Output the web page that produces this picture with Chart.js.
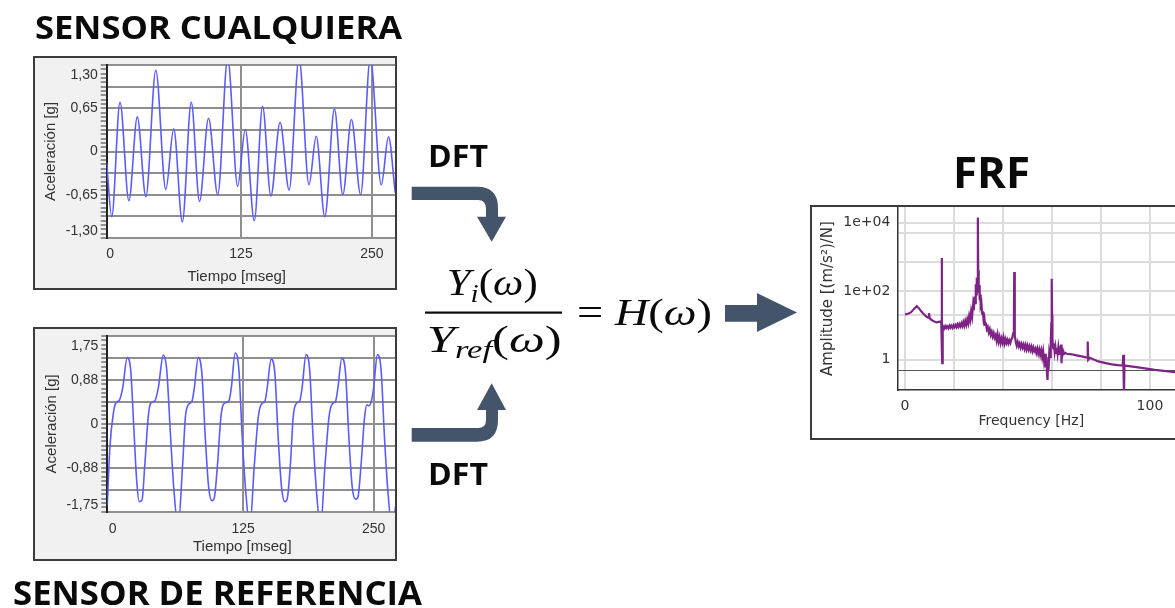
<!DOCTYPE html>
<html>
<head>
<meta charset="utf-8">
<script src="https://cdn.jsdelivr.net/npm/chart.js@4.4.0/dist/chart.umd.min.js"></script>
<style>
  html, body { margin: 0; padding: 0; background: #fff; overflow: hidden; }
  #page { position: relative; width: 1175px; height: 608px; }
  .panel { position: absolute; box-sizing: border-box; border: 2px solid #3c3c3c; background: #f1f1f1; overflow: hidden; }
  .panel canvas { position: absolute; left: 0; top: 0; }
  svg { position: absolute; left: 0; top: 0; }
</style>
</head>
<body>
<div id="page">
  <div class="panel" style="left:33px;top:56px;width:364px;height:234px"><canvas id="topChart" width="360" height="230"></canvas></div>
  <div class="panel" style="left:33px;top:327px;width:364px;height:234px"><canvas id="refChart" width="360" height="230"></canvas></div>
  <div class="panel" style="left:810px;top:205px;width:400px;height:235px;background:#fff"><canvas id="frfChart" width="396" height="231"></canvas></div>

  <svg width="1175" height="608" viewBox="0 0 1175 608">
    <g font-family="'Open Sans', sans-serif" font-weight="700" fill="#0a0a0a">
      <text x="35" y="39" font-size="33" textLength="367" lengthAdjust="spacingAndGlyphs">SENSOR CUALQUIERA</text>
      <text x="13" y="605" font-size="34" textLength="409" lengthAdjust="spacingAndGlyphs">SENSOR DE REFERENCIA</text>
      <text x="428" y="166.5" font-size="30" textLength="60" lengthAdjust="spacingAndGlyphs">DFT</text>
      <text x="428" y="485" font-size="30" textLength="60" lengthAdjust="spacingAndGlyphs">DFT</text>
      <text x="953" y="188" font-size="43" textLength="77" lengthAdjust="spacingAndGlyphs">FRF</text>
    </g>
    <g fill="#44546a">
      <path d="M411.7,186.7 L477,186.7 Q498,186.7 498,208 L498,216.7 L506,216.7 L491.7,241.7 L477,216.7 L486,216.7 L486,209 Q486,200 478,200 L411.7,200 Z"/>
      <path d="M411.7,441.7 L477,441.7 Q498,441.7 498,420 L498,410 L506,410 L491.7,383.3 L477,410 L486,410 L486,420 Q486,428 478,428 L411.7,428 Z"/>
      <path d="M725,305 L757,305 L757,293 L797,312.5 L757,332 L757,321.7 L725,321.7 Z"/>
    </g>
    <g font-family="'Liberation Serif', serif" font-size="38" fill="#0a0a0a">
      <text x="446.7" y="295" textLength="91" lengthAdjust="spacingAndGlyphs"><tspan font-style="italic">Y</tspan><tspan font-style="italic" font-size="26" dy="7">i</tspan><tspan dy="-7">(</tspan><tspan font-style="italic">ω</tspan><tspan>)</tspan></text>
      <rect x="425" y="311.5" width="137" height="2.2"/>
      <text x="426.7" y="351.7" textLength="135" lengthAdjust="spacingAndGlyphs"><tspan font-style="italic">Y</tspan><tspan font-style="italic" font-size="26" dy="6">ref</tspan><tspan dy="-6">(</tspan><tspan font-style="italic">ω</tspan><tspan>)</tspan></text>
      <text x="577" y="325" textLength="135" lengthAdjust="spacingAndGlyphs">= <tspan font-style="italic">H</tspan>(<tspan font-style="italic">ω</tspan>)</text>
    </g>
  </svg>
</div>

<script>
// ===== data =====
// sensor cualquiera: time [ms] and acceleration [g] at the turning points
const topMs = [-3.2, 1.6, 9.5, 18, 26, 34.2, 43.7, 53.2, 60.8, 69,
  77.5, 85.4, 94, 102.8, 112.3, 121.8, 129.1, 137.7, 145.6, 153.5,
  162.3, 170.9, 180.4, 189.9, 196.8, 205, 214.2, 222.2, 230.4, 239.2,
  248.4, 258.9, 265.8, 272.2];
const topG = [-0.17, -0.98, 0.74, -0.74, 0.52, -0.68, 1.22, -0.57, 0.34, -1.06,
  0.74, -0.75, 0.5, -0.65, 1.4, -0.52, 0.33, -1.04, 0.68, -0.67,
  0.44, -0.58, 1.4, -0.5, 0.23, -0.98, 0.64, -0.65, 0.48, -0.65,
  1.4, -0.5, 0.22, -0.62];

// sensor de referencia
const refMs = [-5, -2.5, 0.8, 3.3, 6.5, 9.7, 14.1, 17.4, 20.5, 23.1, 25.6, 28.2, 31,
  34.2, 36.5, 40.6, 43.8, 48.6, 51.8, 55.6, 58.8, 62.8, 67.2,
  69.8, 73, 76.1, 78.3, 82.1, 85.6, 88.8, 92, 95.2, 97.4, 100.6,
  103.8, 106.5, 111.5, 113.7, 117.5, 121, 124.2, 127.4, 131.5, 135.9,
  139.6, 142.8, 145.9, 148.1, 151.9, 155.4, 158.6, 161.8, 165, 167.2, 170.4,
  173, 176.2, 179.3, 181.5, 185.3, 188.8, 192, 195.2, 199.2, 203.6,
  207.3, 210.5, 213.6, 215.8, 219.6, 223.1, 226.3, 229.5, 232.7, 234.9, 238.1,
  241.4, 243.6, 245.5, 247.8, 250, 253.7, 257.2, 260.4, 263.6, 267.6, 271.5];
const refG = [-1.62, -0.46, 0.21, 0.42, 0.47, 0.71, 1.32, 1.07, -0.12, -1.12, -1.55, -1.52, -0.79,
  0.14, 0.41, 0.46, 0.71, 1.37, 1.1, -0.26, -1.32, -2.05, -0.79,
  0.14, 0.39, 0.45, 0.71, 1.32, 1.0, -0.26, -1.25, -1.53, -1.48, -0.79,
  0.14, 0.40, 0.46, 0.71, 1.41, 1.08, -0.26, -1.3, -2.05, -0.79,
  0.14, 0.40, 0.45, 0.71, 1.29, 1.02, -0.26, -1.25, -1.55, -1.5, -0.79,
  0.14, 0.41, 0.46, 0.71, 1.38, 1.07, -0.26, -1.32, -2.05, -0.79,
  0.14, 0.40, 0.45, 0.71, 1.31, 1.02, -0.26, -1.25, -1.5, -1.47, -0.79,
  0.14, 0.38, 0.36, 0.45, 0.71, 1.38, 1.07, -0.26, -1.32, -2.05, -1.6];

// FRF: frequency [Hz] and amplitude [(m/s²)/N]
const frfHz = [0, 1.2, 2.4, 3.6, 4.8, 5.8, 6.8, 7.8, 8.8, 9.5,
  9.8, 10.1, 10.9, 12, 12.9, 14.3, 14.8, 15, 15.1, 15.2,
  15.4, 15.6, 16, 16.4, 16.8, 17.2, 17.7, 18.1, 18.5, 18.9,
  19.4, 19.8, 20.2, 20.6, 21, 21.4, 21.8, 22.2, 22.6, 23,
  23.4, 23.8, 24.2, 24.6, 25, 25.4, 25.8, 26.2, 26.6, 27,
  27.4, 27.8, 28.1, 28.4, 28.7, 28.9, 29.1, 29.3, 29.5, 29.7,
  29.8, 29.9, 30.1, 30.3, 30.5, 30.7, 30.9, 31.2, 31.5, 31.8,
  32.1, 32.4, 32.7, 33, 33.4, 33.8, 34.2, 34.6, 35, 35.4,
  35.8, 36.2, 36.6, 37, 37.4, 37.8, 38.2, 38.6, 39, 39.4,
  39.8, 40.2, 40.6, 41, 41.4, 41.8, 42.2, 42.6, 43, 43.4,
  43.8, 44.2, 44.45, 44.6, 44.75, 44.9, 45.2, 45.6, 46, 46.4,
  46.8, 47.2, 47.6, 48, 48.4, 48.8, 49.2, 49.6, 50, 50.4,
  50.8, 51.2, 51.6, 52, 52.4, 52.8, 53.2, 53.6, 54, 54.4,
  54.8, 55.2, 55.6, 56, 56.4, 56.8, 57.2, 57.5, 57.8, 58,
  58.2, 58.4, 58.6, 58.9, 59.2, 59.5, 59.75, 59.9, 60.05, 60.2,
  60.5, 60.8, 61.1, 61.4, 61.7, 62, 62.3, 62.6, 62.9, 63.2,
  63.5, 63.7, 63.85, 64, 64.3, 64.6, 65, 65.5, 66, 68,
  70, 72.1, 73.5, 74.5, 74.6, 74.8, 75.5, 78.9, 82, 84.4,
  87, 88.9, 89.1, 89.4, 89.6, 90, 95.2, 102, 110.2, 124];
const frfAmp = [21, 22, 24, 30, 37, 31, 25, 21, 18, 17,
  23, 16, 14.5, 13, 12.3, 12.9, 13, 930, 2, 0.8,
  7, 9.3, 8.2, 9.6, 8.4, 9.5, 8.3, 9.8, 8.6, 9.9,
  8.5, 10.1, 8.9, 10.3, 9, 10.8, 9.2, 11, 9.4, 11.5,
  9.6, 12.5, 9.8, 13.5, 10.5, 15, 11.5, 19, 14, 26,
  18, 40, 28, 70, 45, 160, 80, 250, 130, 300,
  14000, 400, 90, 150, 55, 80, 38, 45, 22, 26,
  14, 17, 10.5, 12, 7.8, 9, 6.3, 7.8, 5.4, 6.6,
  4.8, 6, 4.4, 5.2, 3.6, 5.4, 3.4, 4.6, 3.1, 4.2,
  3.2, 4.5, 3, 4, 3.1, 3.8, 3, 3.7, 3.1, 3.9,
  4.4, 6, 12, 360, 14, 5, 3.4, 2.6, 3.3, 2.5,
  3, 2.3, 2.9, 2.3, 2.8, 2.1, 2.7, 2, 2.6, 2,
  2.5, 1.9, 2.4, 1.8, 2.3, 1.8, 2.1, 1.6, 2.1, 1.5,
  2, 1.4, 1.9, 1.2, 1.8, 0.9, 1.5, 0.6, 1.2, 0.35,
  0.26, 0.9, 0.5, 1.6, 1.2, 3, 12, 230, 20, 4,
  2.2, 3, 1.7, 2.4, 1.6, 2.2, 1.5, 2.3, 1.5, 2.5,
  1.4, 2.8, 0.8, 2.2, 1.4, 1.8, 1.5, 1.6, 1.5, 1.45,
  1.35, 1.26, 1.2, 1.15, 3.4, 1.0, 1.15, 0.9, 0.8, 0.74,
  0.7, 0.68, 1.4, 0.09, 0.7, 0.68, 0.6, 0.51, 0.44, 0.38];

// axis ticks
const timeTicks = [0, 125, 250];
const topYTicks = [-1.3, -0.65, 0, 0.65, 1.3];
const topYLabels = ['-1,30', '-0,65', '0', '0,65', '1,30'];
const refYTicks = [-1.75, -0.875, 0, 0.875, 1.75];
const refYLabels = ['-1,75', '-0,88', '0', '0,88', '1,75'];
const frfXTicks = [0, 20, 40, 60, 80, 100, 120];
const frfXLabels = [0, 100];
const frfYGrid = [0.5, 1, 20, 100, 700, 5000, 10000];
const frfYTicks = [1, 100, 10000];
const frfYLabels = ['1', '1e+02', '1e+04'];

// ===== helpers =====
const whiteArea = {
  id: 'whiteArea',
  beforeDraw(chart) {
    const a = chart.chartArea, c = chart.ctx;
    c.save(); c.fillStyle = '#fff'; c.fillRect(a.left, a.top, a.right - a.left, a.bottom - a.top); c.restore();
  }
};

// end labels sit inside the axis range in the original, draw them by hand
const edgeLabels = {
  id: 'edgeLabels',
  afterDraw(chart, args, opts) {
    if (!opts.top) return;
    const y = chart.scales.y, c = chart.ctx;
    c.save();
    c.font = '14px "Liberation Sans", Arial, sans-serif';
    c.fillStyle = '#333';
    c.textAlign = 'right';
    c.textBaseline = 'middle';
    c.fillText(opts.top, y.right - 9, y.getPixelForValue(y.max) + 10);
    c.fillText(opts.bottom, y.right - 9, y.getPixelForValue(y.min) - 7);
    c.restore();
  }
};

// x axis title is not centred on the plot in the original
const xTitle = {
  id: 'xTitle',
  afterDraw(chart, args, opts) {
    if (!opts.text) return;
    const c = chart.ctx;
    c.save();
    c.font = opts.font;
    c.fillStyle = '#333';
    c.textAlign = 'center';
    c.textBaseline = 'middle';
    c.fillText(opts.text, chart.chartArea.left + opts.dx, opts.y);
    c.restore();
  }
};

function minorTicks(majors) {
  const step = majors[1] - majors[0];
  const out = [];
  const n = (majors.length - 1) * 10;
  for (let i = 0; i <= n; i++) {
    out.push({ value: majors[0] + i * step / 10, kind: i % 10 === 0 ? 'major' : (i % 5 === 0 ? 'half' : 'minor') });
  }
  return out;
}

const sans = '"Liberation Sans", Arial, sans-serif';

function timeChart(id, ms, g, yTicks, yLabels, xMin, xMax, yW, xH, lblPad, titleDx, titleY, yTitlePad) {
  const step = yTicks[1] - yTicks[0];
  return new Chart(document.getElementById(id), {
    type: 'line',
    data: {
      datasets: [{
        data: ms.map((t, i) => ({ x: t, y: g[i] })),
        borderColor: '#5b5bff',
        borderWidth: 1.6,
        pointRadius: 0,
        cubicInterpolationMode: 'monotone'
      }]
    },
    options: {
      responsive: false,
      animation: false,
      layout: { padding: { top: 7, left: 0, right: 0, bottom: 0 } },
      plugins: {
        legend: { display: false },
        tooltip: { enabled: false },
        edgeLabels: { top: yLabels[yLabels.length - 1], bottom: yLabels[0] },
        xTitle: { text: 'Tiempo [mseg]', dx: titleDx, y: titleY, font: '15px ' + sans }
      },
      scales: {
        x: {
          type: 'linear', min: xMin, max: xMax,
          afterBuildTicks: s => { s.ticks = timeTicks.map(v => ({ value: v })); },
          afterFit: s => { s.height = xH; s.paddingLeft = 0; s.paddingRight = 0; },
          grid: { color: c => (c.tick && c.tick.value === 0) ? 'rgba(0,0,0,0)' : '#8f8f8f', lineWidth: 2, drawTicks: false },
          border: { color: '#8f8f8f', width: 2 },
          ticks: { padding: lblPad, color: '#333', font: { family: sans, size: 14 }, maxRotation: 0, callback: v => String(v) }
        },
        y: {
          min: yTicks[0], max: yTicks[yTicks.length - 1],
          afterBuildTicks: s => { s.ticks = minorTicks(yTicks); },
          afterFit: s => { s.width = yW; s.paddingTop = 0; s.paddingBottom = 0; },
          grid: {
            color: c => (c.tick && c.tick.kind !== 'minor') ? '#8f8f8f' : 'rgba(0,0,0,0)',
            lineWidth: 2,
            tickColor: '#333', tickLength: 6, tickWidth: 1
          },
          border: { color: '#222', width: 2 },
          ticks: {
            autoSkip: false, padding: 3, color: '#333', font: { family: sans, size: 14 },
            callback: function (v, i, ticks) {
              if (ticks[i].kind !== 'major') return '';
              const k = Math.round((v - yTicks[0]) / step);
              if (k === 0 || k === yTicks.length - 1) return '';
              return yLabels[k];
            }
          },
          title: { display: true, text: 'Aceleración [g]', color: '#333', font: { family: sans, size: 15 }, padding: { top: yTitlePad, bottom: 0 } }
        }
      }
    },
    plugins: [whiteArea, edgeLabels, xTitle]
  });
}

timeChart('topChart', topMs, topG, topYTicks, topYLabels, -3.2, 272, 71.7, 50, 8, 130, 218.7, 6.7);
timeChart('refChart', refMs, refG, refYTicks, refYLabels, -5, 270.5, 72.3, 47.3, 9.5, 135, 217.7, 7.7);

// ===== FRF =====
const dv = '"DejaVu Sans", Verdana, sans-serif';
new Chart(document.getElementById('frfChart'), {
  type: 'line',
  data: {
    datasets: [{
      data: frfHz.map((f, i) => ({ x: f, y: frfAmp[i] })),
      borderColor: '#7d2484',
      borderWidth: 2.2,
      pointRadius: 0,
      tension: 0
    }]
  },
  options: {
    responsive: false,
    animation: false,
    layout: { padding: 0 },
    plugins: {
      legend: { display: false },
      tooltip: { enabled: false },
      xTitle: { text: 'Frequency [Hz]', dx: 134, y: 214.7, font: '14px ' + dv }
    },
    scales: {
      x: {
        type: 'linear', min: -3.14, max: 123.7,
        afterBuildTicks: s => { s.ticks = frfXTicks.map(v => ({ value: v })); },
        afterFit: s => { s.height = 48; s.paddingLeft = 0; s.paddingRight = 0; },
        grid: { color: '#dcdcdc', lineWidth: 2, drawTicks: false },
        border: { color: '#333', width: 1.5 },
        ticks: { padding: 8, color: '#333', font: { family: dv, size: 14 }, maxRotation: 0, autoSkip: false,
          callback: v => frfXLabels.includes(v) ? String(v) : '' }
      },
      y: {
        type: 'logarithmic', min: 0.132, max: 28400,
        afterBuildTicks: s => { s.ticks = frfYGrid.map(v => ({ value: v })); },
        afterFit: s => { s.width = 85.3; s.paddingTop = 0; s.paddingBottom = 0; },
        grid: {
          color: c => (c.tick && c.tick.value === 0.5) ? '#555' : '#dcdcdc',
          lineWidth: c => (c.tick && c.tick.value === 0.5) ? 1 : 2,
          drawTicks: false
        },
        border: { color: '#333', width: 1.5 },
        ticks: { padding: 7, color: '#333', font: { family: dv, size: 14 }, autoSkip: false,
          callback: v => { const k = frfYTicks.indexOf(v); return k < 0 ? '' : frfYLabels[k]; } },
        title: { display: true, text: 'Amplitude [(m/s²)/N]', color: '#333', font: { family: dv, size: 15 }, padding: { top: 7, bottom: 0 } }
      }
    }
  },
  plugins: [whiteArea, xTitle]
});
</script>
</body>
</html>
